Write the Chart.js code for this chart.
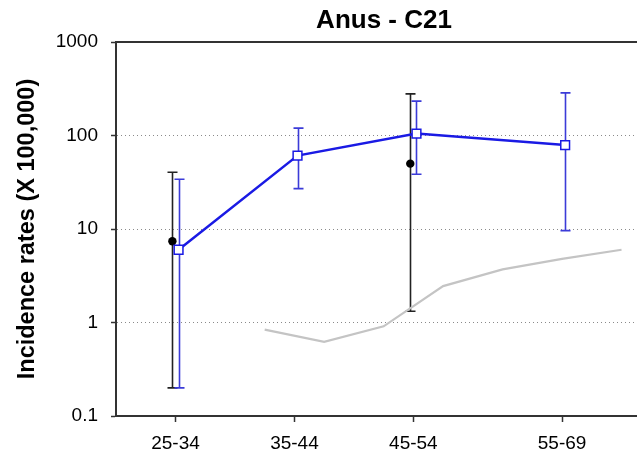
<!DOCTYPE html>
<html lang="en">
<head>
<meta charset="UTF-8">
<title>Anus - C21</title>
<script src="https://cdn.jsdelivr.net/npm/chart.js"></script>
<style>
  html, body { margin: 0; padding: 0; background: #fff; }
  #wrap { width: 637px; height: 449px; }
</style>
</head>
<body>
<div id="wrap"><canvas id="rateChart" width="637" height="449"></canvas></div>
<script>
// age groups and where they sit on the age axis (group midpoints)
var groups = ['25-34', '35-44', '45-54', '55-69'];
var groupMid = [30, 40, 50, 62.5];

// blue series: rate with confidence interval
var blueRate = [6.0, 61, 105, 79];
var blueLow = [0.2, 27, 38.5, 9.6];
var blueHigh = [34, 120, 233, 286];

// black series: rate with confidence interval (missing for some groups)
var blackRate = [7.4, null, 50, null];
var blackLow = [0.2, null, 1.32, null];
var blackHigh = [40.5, null, 279, null];

// grey reference curve (5-year age groups)
var refAge = [37.5, 42.5, 47.5, 52.5, 57.5, 62.5, 67.5];
var refRate = [0.84, 0.62, 0.91, 2.45, 3.7, 4.8, 6.0];

var yTicks = [0.1, 1, 10, 100, 1000];

var FONT = "'Liberation Sans', Arial, sans-serif";
var BLUE = '#1a1ae4';
var BLUE_BAR = '#3b3bd8';
var SHIFT = 0.26; // small horizontal offset between the two series (years)

function pts(xs, ys, shift) {
    var out = [];
    for (var i = 0; i < xs.length; i++) {
        if (ys[i] != null) out.push({ x: xs[i] + shift, y: ys[i] });
    }
    return out;
}

// error bars, drawn under the markers
var errorBars = {
    id: 'errorBars',
    beforeDatasetsDraw: function (chart) {
        var ctx = chart.ctx, xs = chart.scales.x, ys = chart.scales.y;
        var sets = [
            { low: blackLow, high: blackHigh, shift: -SHIFT, color: '#222', width: 1.6 },
            { low: blueLow, high: blueHigh, shift: SHIFT, color: BLUE_BAR, width: 1.6 }
        ];
        ctx.save();
        sets.forEach(function (s) {
            ctx.strokeStyle = s.color;
            ctx.lineWidth = s.width;
            for (var i = 0; i < groupMid.length; i++) {
                if (s.low[i] == null) continue;
                var x = Math.round(xs.getPixelForValue(groupMid[i] + s.shift)) + 0.5;
                var y1 = ys.getPixelForValue(s.low[i]);
                var y2 = ys.getPixelForValue(s.high[i]);
                ctx.beginPath();
                ctx.moveTo(x, y1); ctx.lineTo(x, y2);
                ctx.moveTo(x - 5, y1); ctx.lineTo(x + 5, y1);
                ctx.moveTo(x - 5, y2); ctx.lineTo(x + 5, y2);
                ctx.stroke();
            }
        });
        ctx.restore();
    }
};

// top frame line and chart title
var frame = {
    id: 'frame',
    afterDraw: function (chart) {
        var ctx = chart.ctx, a = chart.chartArea;
        ctx.save();
        ctx.strokeStyle = '#333';
        ctx.lineWidth = 2;
        ctx.beginPath();
        ctx.moveTo(a.left, a.top);
        ctx.lineTo(a.right, a.top);
        ctx.stroke();
        ctx.fillStyle = '#000';
        ctx.font = 'bold 26px ' + FONT;
        ctx.textAlign = 'center';
        ctx.textBaseline = 'alphabetic';
        ctx.fillText('Anus - C21', 384, 28);
        ctx.restore();
    }
};

var ctx = document.getElementById('rateChart').getContext('2d');
var rateChart = new Chart(ctx, {
    type: 'line',
    data: {
        datasets: [{
            label: 'reference',
            data: pts(refAge, refRate, 0),
            borderColor: '#c4c4c4',
            borderWidth: 2.2,
            pointRadius: 0,
            tension: 0
        }, {
            label: 'blue',
            data: pts(groupMid, blueRate, SHIFT),
            borderColor: BLUE,
            borderWidth: 2.5,
            pointStyle: 'rect',
            pointRadius: 6.2,
            pointBackgroundColor: '#fff',
            pointBorderColor: BLUE,
            pointBorderWidth: 1.5,
            tension: 0
        }, {
            label: 'black',
            data: pts(groupMid, blackRate, -SHIFT),
            showLine: false,
            pointRadius: 4.2,
            pointBackgroundColor: '#000',
            pointBorderColor: '#000',
            pointBorderWidth: 0
        }]
    },
    options: {
        responsive: false,
        animation: false,
        layout: { autoPadding: false, padding: { top: 42, right: 0, left: 0, bottom: 0 } },
        plugins: {
            legend: { display: false },
            title: { display: false },
            tooltip: { enabled: false }
        },
        scales: {
            x: {
                type: 'linear',
                min: 25,
                max: 68.8,
                afterBuildTicks: function (scale) {
                    scale.ticks = groupMid.map(function (v) { return { value: v }; });
                },
                afterFit: function (scale) {
                    scale.height = 33;
                    scale.paddingLeft = 0;
                    scale.paddingRight = 0;
                },
                ticks: {
                    callback: function (v, i) { return groups[i]; },
                    color: '#000',
                    font: { family: FONT, size: 19 },
                    padding: 10,
                    maxRotation: 0,
                    autoSkip: false
                },
                grid: {
                    drawOnChartArea: false,
                    tickLength: 6,
                    tickColor: '#333',
                    tickWidth: 1.5
                },
                border: { color: '#333', width: 2 }
            },
            y: {
                type: 'logarithmic',
                min: 0.1,
                max: 1000,
                afterBuildTicks: function (scale) {
                    scale.ticks = yTicks.map(function (v) { return { value: v }; });
                },
                afterFit: function (scale) {
                    scale.width = 116;
                    scale.paddingTop = 0;
                    scale.paddingBottom = 0;
                },
                ticks: {
                    callback: function (v) { return String(v); },
                    color: '#000',
                    font: { family: FONT, size: 19 },
                    padding: 13
                },
                title: {
                    display: true,
                    text: 'Incidence rates (X 100,000)',
                    color: '#000',
                    font: { family: FONT, size: 23.5, weight: 'bold' },
                    padding: { top: 13, bottom: 0 }
                },
                grid: {
                    color: function (c) {
                        var v = c.tick ? c.tick.value : null;
                        return (v === 1 || v === 10 || v === 100) ? '#8a8a8a' : 'rgba(0,0,0,0)';
                    },
                    lineWidth: 1,
                    tickLength: 5,
                    tickColor: '#333',
                    tickWidth: 1.5
                },
                border: { color: '#333', width: 2, dash: [1, 3] }
            }
        }
    },
    plugins: [errorBars, frame]
});
</script>
</body>
</html>
